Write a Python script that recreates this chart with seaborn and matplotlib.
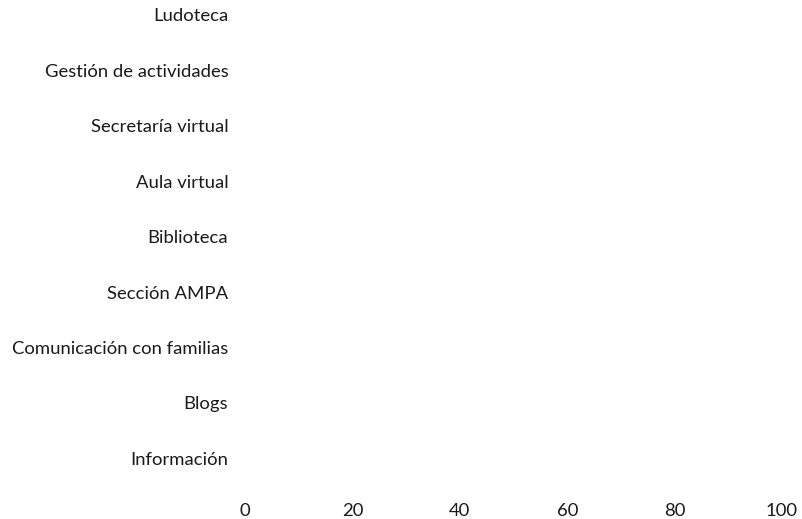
import matplotlib
matplotlib.use("Agg")
import matplotlib.pyplot as plt
import pandas as pd
import seaborn as sns

# %% data (the bars in the source are empty / zero-valued)

servicios = [
    "Ludoteca",
    "Gestión de actividades",
    "Secretaría virtual",
    "Aula virtual",
    "Biblioteca",
    "Sección AMPA",
    "Comunicación con familias",
    "Blogs",
    "Información",
]
valores = [0, 0, 0, 0, 0, 0, 0, 0, 0]
xticks = [0, 20, 40, 60, 80, 100]

df = pd.DataFrame({"servicio": servicios, "valor": valores})

# %% plot

sns.set_style("white")
plt.rcParams["font.family"] = ["Lato", "DejaVu Sans"]

fig = plt.figure(figsize=(8.02, 5.19), dpi=100)
ax = fig.add_axes([245 / 802, 33 / 519, 537 / 802, 486 / 519])
sns.barplot(data=df, x="valor", y="servicio", color="white", ax=ax)

ax.set_xlim(0, 100)
ax.set_ylim(8.5, -0.27)
ax.set_xticks(xticks)
ax.set_xticklabels([str(t) for t in xticks])
ax.set_xlabel("")
ax.set_ylabel("")
ax.tick_params(axis="x", length=0, pad=12, labelsize=13.3, labelcolor="#1a1a1a")
ax.tick_params(axis="y", length=0, pad=12, labelsize=13.3, labelcolor="#1a1a1a")
sns.despine(ax=ax, left=True, bottom=True)

fig.savefig("out.png", facecolor="w", dpi=100)
